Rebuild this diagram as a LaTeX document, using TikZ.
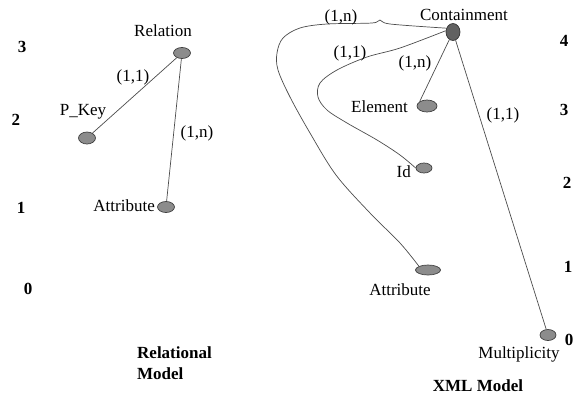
\documentclass[tikz,border=0pt]{standalone}
\usepackage{fontspec}
\setmainfont{Liberation Serif}
\usetikzlibrary{shapes.geometric}
\begin{document}
\begin{tikzpicture}[x=1pt,y=-1pt,
  vert/.style={ellipse,draw=black!75,fill=black!45,line width=0.7pt,minimum width=17pt,minimum height=11pt,inner sep=0pt},
  rootv/.style={ellipse,draw=black!80,fill=black!62,line width=0.7pt,minimum width=14pt,minimum height=17pt,inner sep=0pt},
  lbl/.style={inner sep=0pt,font=\fontsize{17}{18}\selectfont},
  lvl/.style={inner sep=0pt,font=\bfseries\fontsize{17}{18}\selectfont},
  ttl/.style={inner sep=0pt,font=\bfseries\fontsize{17}{21}\selectfont,align=left},
  edge/.style={draw=black!70,line width=0.7pt}]
\useasboundingbox (0,0) rectangle (574,400);
% ---- Relational model
\node[lvl] (l3) at (22,47) {3};
\node[lvl] (l2) at (16,120) {2};
\node[lvl] (l1) at (21,208) {1};
\node[lvl] (l0) at (28,289) {0};
\node[vert] (rel) at (182,53) {};
\node[vert,minimum height=12pt] (pkey) at (87,138) {};
\node[vert] (ratt) at (166,207) {};
\node[lbl] (relL) at (163,31) {Relation};
\node[lbl] (pkeyL) at (83,112) {P\_Key};
\node[lbl,anchor=east] (rattL) at (155,206) {Attribute};
\draw[edge] (rel) -- (pkey);
\draw[edge] (rel) -- (ratt);
\node[lbl] (e1) at (133,77) {(1,1)};
\node[lbl] (e2) at (197,133) {(1,n)};
\node[ttl,anchor=west] (rtitle) at (137,363) {Relational\\Model};
% ---- XML model
\node[lvl] (x4) at (564,41) {4};
\node[lvl] (x3) at (564,110) {3};
\node[lvl] (x2) at (567,183) {2};
\node[lvl] (x1) at (568,267) {1};
\node[lvl] (x0) at (569,340) {0};
\node[rootv] (cont) at (453,32) {};
\node[vert,minimum width=20pt,minimum height=12pt] (elem) at (427,106) {};
\node[vert,minimum width=16pt,minimum height=10pt] (id) at (424,168) {};
\node[vert,minimum width=25pt,minimum height=10pt] (xatt) at (428,270) {};
\node[vert,minimum width=16pt] (mult) at (548,335) {};
\node[lbl] (contL) at (464,15) {Containment};
\node[lbl,anchor=east] (elemL) at (408,107) {Element};
\node[lbl,anchor=east] (idL) at (411,172) {Id};
\node[lbl] (xattL) at (400,290) {Attribute};
\node[lbl] (multL) at (519,354) {Multiplicity};
\draw[edge] (cont) -- (elem.north west);
\draw[edge] (cont) -- (mult);
\draw[edge] plot[smooth,tension=0.55] coordinates {(cont.150) (390,24) (380,20) (372,23) (327,24) (300,28) (283,38) (277,53) (278,70) (290,97) (310,133) (336,175) (370,213) (400,243) (xatt.north west)};
\draw[edge] plot[smooth,tension=0.55] coordinates {(cont.170) (400,48) (367,57) (337,70) (320,83) (318,97) (327,110) (347,123) (377,140) (400,155) (id.west)};
\node[lbl] (x1n) at (341,17) {(1,n)};
\node[lbl] (x11) at (350,53) {(1,1)};
\node[lbl] (x1n2) at (415,63) {(1,n)};
\node[lbl] (x112) at (503,115) {(1,1)};
\node[ttl] (xtitle) at (478,386) {XML Model};
\end{tikzpicture}
\end{document}
